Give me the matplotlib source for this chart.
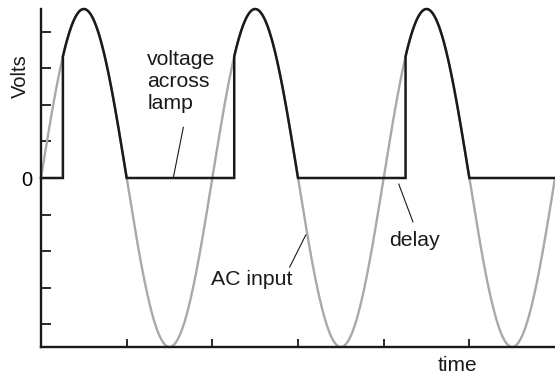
import numpy as np
import matplotlib
matplotlib.use("Agg")
import matplotlib.pyplot as plt

plt.rcParams['font.family'] = ['Liberation Sans', 'DejaVu Sans']

# waveform settings
cycles = 3
amplitude = 1.0
firing_angle_deg = 46          # delay before the lamp switches on, each cycle
ytick_step = 0.216
ytick_count = 4

grey = '#a9a9a9'
ink = '#1a1a1a'

t = np.linspace(0, cycles * 2 * np.pi, 6000)
ac = amplitude * np.sin(t)

# lamp voltage: zero until the firing angle, then follows the positive half
alpha = np.deg2rad(firing_angle_deg)
lamp_t, lamp_v = [], []
for k in range(cycles):
    t0 = k * 2 * np.pi
    lamp_t += [t0, t0 + alpha]
    lamp_v += [0, 0]
    seg = np.linspace(t0 + alpha, t0 + np.pi, 400)
    lamp_t += list(seg)
    lamp_v += list(amplitude * np.sin(seg))
    lamp_t += [t0 + 2 * np.pi]
    lamp_v += [0]
lamp_v[-1] = 0

fig = plt.figure(figsize=(5.55, 3.74), dpi=100)
ax = fig.add_axes([41 / 555, 27 / 374, 514 / 555, 338 / 374])

ax.plot(t, ac, color=grey, lw=1.7, clip_on=False, solid_capstyle='butt')
ax.plot(lamp_t, lamp_v, color=ink, lw=1.8, clip_on=False, solid_joinstyle='miter')

ax.set_xlim(0, cycles * 2 * np.pi)
ax.set_ylim(-amplitude, amplitude)

for s in ['top', 'right']:
    ax.spines[s].set_visible(False)
for s in ['left', 'bottom']:
    ax.spines[s].set_linewidth(1.7)
    ax.spines[s].set_color(ink)

yt = [k * ytick_step for k in range(-ytick_count, ytick_count + 1)]
ax.set_yticks(yt)
ax.set_yticklabels(['0' if k == 0 else '' for k in range(-ytick_count, ytick_count + 1)])
ax.set_xticks([k * np.pi for k in range(1, 2 * cycles)])
ax.set_xticklabels([])
ax.tick_params(axis='y', direction='in', length=7.2, width=1.3, color=ink,
               labelsize=14.5, pad=6)
ax.tick_params(axis='x', direction='in', length=5.8, width=1.3, color=ink)

ax.text(-0.77, 0.60, 'Volts', rotation=90, ha='center', va='center',
        fontsize=14.5, color=ink, clip_on=False)
ax.text(15.26, -1.107, 'time', ha='center', va='center', fontsize=15,
        color=ink, clip_on=False)

ax.text(3.90, 0.57, 'voltage\nacross\nlamp', ha='left', va='center',
        fontsize=15.3, linespacing=1.18, color=ink)
ax.plot([5.22, 4.85], [0.30, 0.0], color=ink, lw=0.8)

ax.text(7.72, -0.60, 'AC input', ha='center', va='center', fontsize=15.3, color=ink)
ax.plot([9.71, 9.12], [-0.337, -0.527], color=ink, lw=0.8)

ax.text(13.68, -0.367, 'delay', ha='center', va='center', fontsize=15.3, color=ink)
ax.plot([13.12, 13.64], [-0.036, -0.26], color=ink, lw=0.8)

fig.savefig('out.png', dpi=100)
